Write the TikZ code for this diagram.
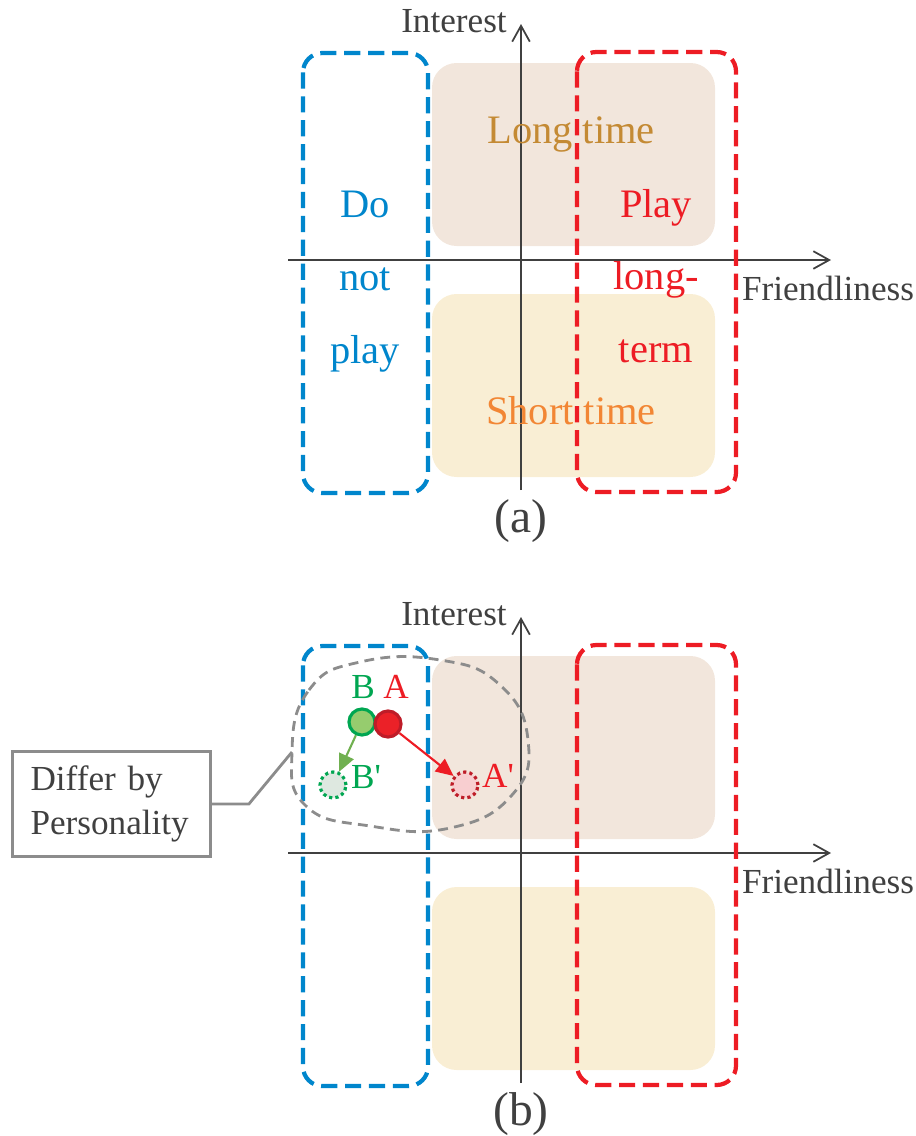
\documentclass[tikz,border=0pt]{standalone}
\usepackage{fontspec}
\setmainfont{Liberation Serif}
\usetikzlibrary{arrows.meta}
\definecolor{axisgray}{RGB}{64,64,64}
\definecolor{noblue}{RGB}{0,134,204}
\definecolor{yesred}{RGB}{237,28,36}
\definecolor{longfill}{RGB}{242,230,220}
\definecolor{shortfill}{RGB}{249,238,212}
\definecolor{longtxt}{RGB}{196,138,52}
\definecolor{shorttxt}{RGB}{242,134,52}
\definecolor{bgreen}{RGB}{0,166,81}
\definecolor{bfill}{RGB}{150,204,110}
\definecolor{bline}{RGB}{112,176,80}
\definecolor{afill}{RGB}{235,33,40}
\definecolor{aedge}{RGB}{190,28,40}
\definecolor{bghost}{RGB}{222,232,224}
\definecolor{aghost}{RGB}{248,206,208}
\definecolor{notegray}{RGB}{140,140,140}
\begin{document}
\begin{tikzpicture}[x=0.01cm, y=-0.01cm,
	every node/.style={font=\fontsize{10}{12}\selectfont},
	axline/.style={draw=axisgray, line width=0.5pt, -{Straight Barb[length=4.5pt,width=5pt]}},
	zone/.style={line width=1.2pt, dash pattern=on 4.6pt off 2.2pt, rounded corners=5.5pt},
	big/.style={font=\fontsize{11.5}{14}\selectfont, anchor=base},
	ball/.style={circle, minimum size=0.26cm, inner sep=0pt, line width=0.9pt},
	ghost/.style={circle, minimum size=0.26cm, inner sep=0pt, line width=0.9pt, dash pattern=on 0.9pt off 0.9pt}]
\useasboundingbox (0,0) rectangle (916,1136);
\foreach \p/\dy in {a/0,b/593} {
	\fill[longfill, rounded corners=7pt] (432,63+\dy) rectangle (715,246+\dy);
	\fill[shortfill, rounded corners=7pt] (432,294+\dy) rectangle (715,477+\dy);
	\draw[axline] (521,490+\dy) -- (521,24+\dy);
	\draw[axline] (288,260+\dy) -- (831,260+\dy);
	\draw[zone, draw=noblue] (303,53+\dy) rectangle (428,493+\dy);
	\draw[zone, draw=yesred] (577,52+\dy) rectangle (736,492+\dy);
	\node[anchor=base, text=axisgray] (int-\p) at (454,32+\dy) {Interest};
	\node[anchor=base, text=axisgray] (fri-\p) at (828,300+\dy) {Friendliness};
	\node[anchor=base, text=axisgray, font=\fontsize{13.5}{16}\selectfont] (cap-\p) at (521,532+\dy) {(\p)};
}
\node[big, text=longtxt] (lt) at (571,143) {Long time};
\node[big, text=shorttxt] (st) at (571,424) {Short time};
\foreach \w [count=\i] in {Do,not,play}
	\node[big, text=noblue] (np-\i) at (365,{217+73*(\i-1)}) {\w};
\foreach \w [count=\i] in {Play,long-,term}
	\node[big, text=yesred] (pl-\i) at (656,{217+72.5*(\i-1)}) {\w};
\draw[notegray, line width=0.8pt, dash pattern=on 2.8pt off 1.8pt] plot[smooth cycle, tension=0.8] coordinates {(292,752) (309,690) (360,662) (440,660) (500,685) (528,740) (512,795) (450,828) (370,826) (306,806)};
\node[ball, fill=bfill, draw=bgreen] (B) at (362,722) {};
\node[ball, fill=afill, draw=aedge] (A) at (388,724) {};
\node[ghost, fill=bghost, draw=bgreen] (B2) at (333,785) {};
\node[ghost, fill=aghost, draw=aedge] (A2) at (465,785) {};
\node[anchor=base, text=bgreen] (Bl) at (363,698) {B};
\node[anchor=base, text=yesred] (Al) at (396,698) {A};
\node[anchor=base, text=bgreen] (B2l) at (366,788) {B\textquotesingle};
\node[anchor=base, text=yesred] (A2l) at (498,787) {A\textquotesingle};
\draw[bline, line width=0.6pt, -{Triangle[length=5pt,width=4.5pt,fill=bline]}] (B) -- (B2);
\draw[yesred, line width=0.6pt, -{Triangle[length=5pt,width=4.5pt,fill=yesred]}] (A) -- (A2);
\node[draw=notegray, line width=0.8pt, anchor=north west, minimum width=1.98cm, minimum height=1.05cm, text width=46pt, align=left, inner xsep=5pt, font=\fontsize{10}{12.5}\selectfont, text=axisgray] (note) at (11,750) {Differ by\\Personality};
\coordinate (blobtip) at (292,752);
\draw[notegray, line width=0.8pt] (note.east) -- ++(37,0) -- (blobtip);
\end{tikzpicture}
\end{document}
